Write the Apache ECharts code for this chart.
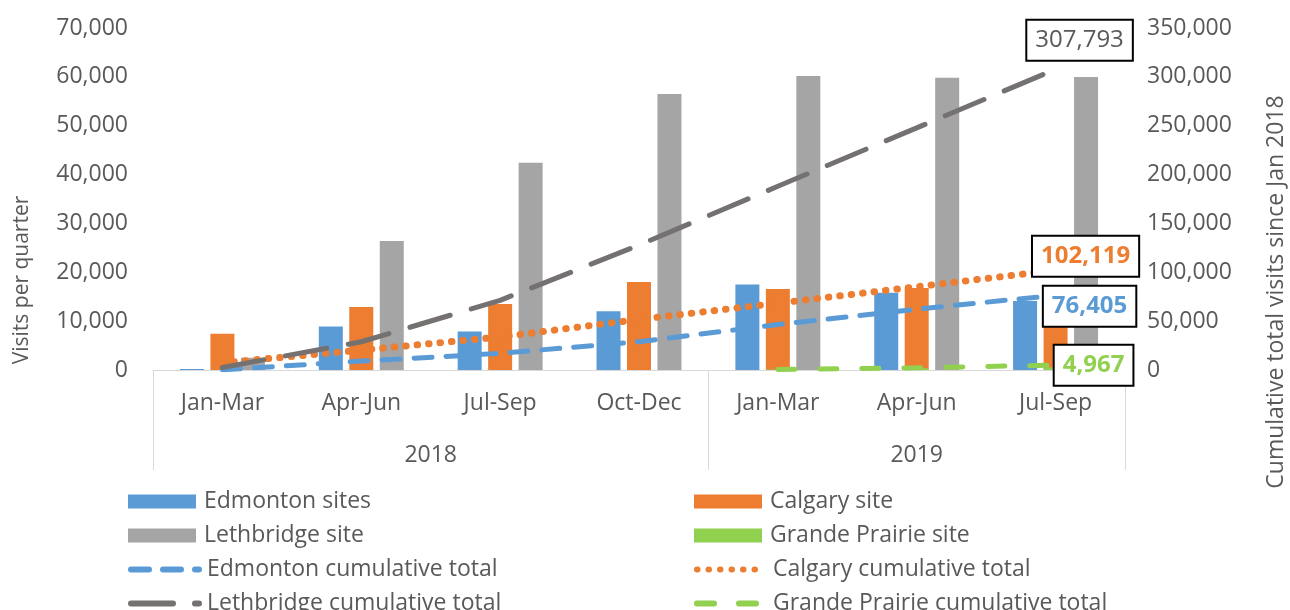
<!DOCTYPE html>
<html>
<head>
<meta charset="utf-8">
<script src="https://cdn.jsdelivr.net/npm/echarts@6/dist/echarts.min.js"></script>
<style>
  html, body { margin: 0; padding: 0; background: #fff; }
  #chart { width: 1290px; height: 610px; }
</style>
</head>
<body>
<div id="chart"></div>
<script>
// quarters and years
var quarters = ['Jan-Mar', 'Apr-Jun', 'Jul-Sep', 'Oct-Dec', 'Jan-Mar', 'Apr-Jun', 'Jul-Sep'];
var years = ['2018', '2019'];

// visits per quarter
var edmontonSites = [200, 8900, 7900, 12000, 17500, 15800, 14105];
var calgarySite = [7400, 12900, 13500, 18000, 16600, 16800, 16919];
var lethbridgeSite = [2500, 26400, 42400, 56500, 60200, 59800, 59993];
var grandePrairieSite = [null, null, null, null, 450, 1817, 2700];

// cumulative totals since Jan 2018
var edmontonCum = [200, 9100, 17000, 29000, 46500, 62300, 76405];
var calgaryCum = [7400, 20300, 33800, 51800, 68400, 85200, 102119];
var lethbridgeCum = [2500, 28900, 71300, 127800, 188000, 247800, 307793];
var grandePrairieCum = [null, null, null, null, 450, 2267, 4967];

var leftTicks = [0, 70000, 10000];
var rightTicks = [0, 350000, 50000];

var FONT = '"Open Sans", sans-serif';
var TXT = '#595959';
var BLUE = '#5b9bd5', ORANGE = '#ed7d31', GREY = '#a5a5a5', GREEN = '#92d050', DARK = '#767171';

function fmt(v) { return v == null ? '' : v.toLocaleString('en-US'); }

var myChart = echarts.init(document.getElementById('chart'));

function endBox(color, bold, offset) {
    return {
        show: true,
        formatter: function (p) { return fmt(p.value); },
        color: color,
        fontFamily: FONT,
        fontSize: 24,
        fontWeight: bold ? 'bold' : 'normal',
        lineHeight: 26,
        backgroundColor: '#fff',
        borderColor: '#000',
        borderWidth: 2,
        padding: [7, 8, 6, 8],
        align: 'center',
        verticalAlign: 'middle',
        distance: 0,
        offset: offset
    };
}

function cumLine(name, data, color, dash, width, offset, bold, labelColor) {
    return {
        name: name,
        type: 'line',
        xAxisIndex: 0,
        yAxisIndex: 1,
        data: data,
        symbol: 'none',
        z: 5,
        lineStyle: { color: color, width: width, type: dash, cap: 'round' },
        itemStyle: { color: color },
        endLabel: endBox(labelColor || color, bold, offset)
    };
}

// one legend block per entry, two columns of four rows
var legendNames = [
    ['Edmonton sites', 'Lethbridge site', 'Edmonton cumulative total', 'Lethbridge cumulative total'],
    ['Calgary site', 'Grande Prairie site', 'Calgary cumulative total', 'Grande Prairie cumulative total']
];
var legends = [];
legendNames.forEach(function (col, c) {
    col.forEach(function (name, r) {
        var lg = {
            left: c === 0 ? 128 : 694,
            top: 490 + r * 34,
            itemWidth: 68,
            itemHeight: 14,
            padding: 0,
            selectedMode: false,
            textStyle: { color: TXT, fontSize: 23, fontFamily: FONT, lineHeight: 23, padding: [0, 0, 0, 3] },
            data: [name]
        };
        if (name.indexOf('cumulative') > -1) {
            lg.itemStyle = { opacity: 0 };
            lg.lineStyle = { width: 6, cap: 'round' };
        } else {
            lg.icon = 'rect';
        }
        legends.push(lg);
    });
});

myChart.setOption({
    animation: false,
    textStyle: { fontFamily: FONT },
    grid: { left: 153, right: 165, top: 28, bottom: 240, containLabel: false },
    legend: legends,
    xAxis: [
        {
            type: 'category', data: quarters, position: 'bottom',
            axisLine: { lineStyle: { color: '#d9d9d9', width: 1 } },
            axisTick: { show: false },
            axisLabel: { color: TXT, fontSize: 23, fontFamily: FONT, margin: 22, interval: 0 }
        },
        {
            type: 'category', data: quarters, position: 'bottom',
            axisLine: { show: false },
            axisLabel: { show: false },
            axisTick: {
                show: true, length: 100, inside: false,
                interval: function (i) { return i === 0 || i === 4 || i === 7; },
                lineStyle: { color: '#d9d9d9', width: 1 }
            }
        },
        {
            type: 'value', min: 0, max: 7, interval: 0.5, position: 'bottom',
            axisLine: { show: false }, axisTick: { show: false }, splitLine: { show: false },
            axisLabel: {
                color: TXT, fontSize: 23, fontFamily: FONT, margin: 74,
                formatter: function (v) { return v === 2 ? years[0] : (v === 5.5 ? years[1] : ''); }
            }
        },
        { type: 'category', data: quarters, show: false }
    ],
    yAxis: [
        {
            type: 'value', min: leftTicks[0], max: leftTicks[1], interval: leftTicks[2],
            axisLine: { show: false }, axisTick: { show: false }, splitLine: { show: false },
            axisLabel: { color: TXT, fontSize: 23, fontFamily: FONT, margin: 25, formatter: fmt }
        },
        {
            type: 'value', min: rightTicks[0], max: rightTicks[1], interval: rightTicks[2],
            axisLine: { show: false }, axisTick: { show: false }, splitLine: { show: false },
            axisLabel: { color: TXT, fontSize: 23, fontFamily: FONT, margin: 22, formatter: fmt }
        }
    ],
    graphic: [
        {
            type: 'text', x: 22, y: 280, rotation: Math.PI / 2,
            style: { text: 'Visits per quarter', fill: TXT, font: '21px ' + FONT, textAlign: 'center', textVerticalAlign: 'middle' }
        },
        {
            type: 'text', x: 1276, y: 292, rotation: Math.PI / 2,
            style: { text: 'Cumulative total visits since Jan 2018', fill: TXT, font: '23px ' + FONT, textAlign: 'center', textVerticalAlign: 'middle' }
        }
    ],
    series: [
        { name: 'Edmonton sites', type: 'bar', data: edmontonSites, barWidth: 24, barGap: '27%', itemStyle: { color: BLUE } },
        { name: 'Calgary site', type: 'bar', data: calgarySite, barWidth: 24, barGap: '27%', itemStyle: { color: ORANGE } },
        { name: 'Lethbridge site', type: 'bar', data: lethbridgeSite, barWidth: 24, barGap: '27%', itemStyle: { color: GREY } },
        { name: 'Grande Prairie site', type: 'bar', xAxisIndex: 3, yAxisIndex: 1, data: grandePrairieSite, barWidth: 24, itemStyle: { color: GREEN } },
        cumLine('Edmonton cumulative total', edmontonCum, BLUE, [18, 14], 5, [34, 11], true),
        cumLine('Calgary cumulative total', calgaryCum, ORANGE, [0.5, 11], 7, [30, -14], true),
        cumLine('Lethbridge cumulative total', lethbridgeCum, DARK, [42, 22], 5, [24, -29], false, TXT),
        cumLine('Grande Prairie cumulative total', grandePrairieCum, GREEN, [17, 25], 5, [38, 0], true)
    ]
});
</script>
</body>
</html>
